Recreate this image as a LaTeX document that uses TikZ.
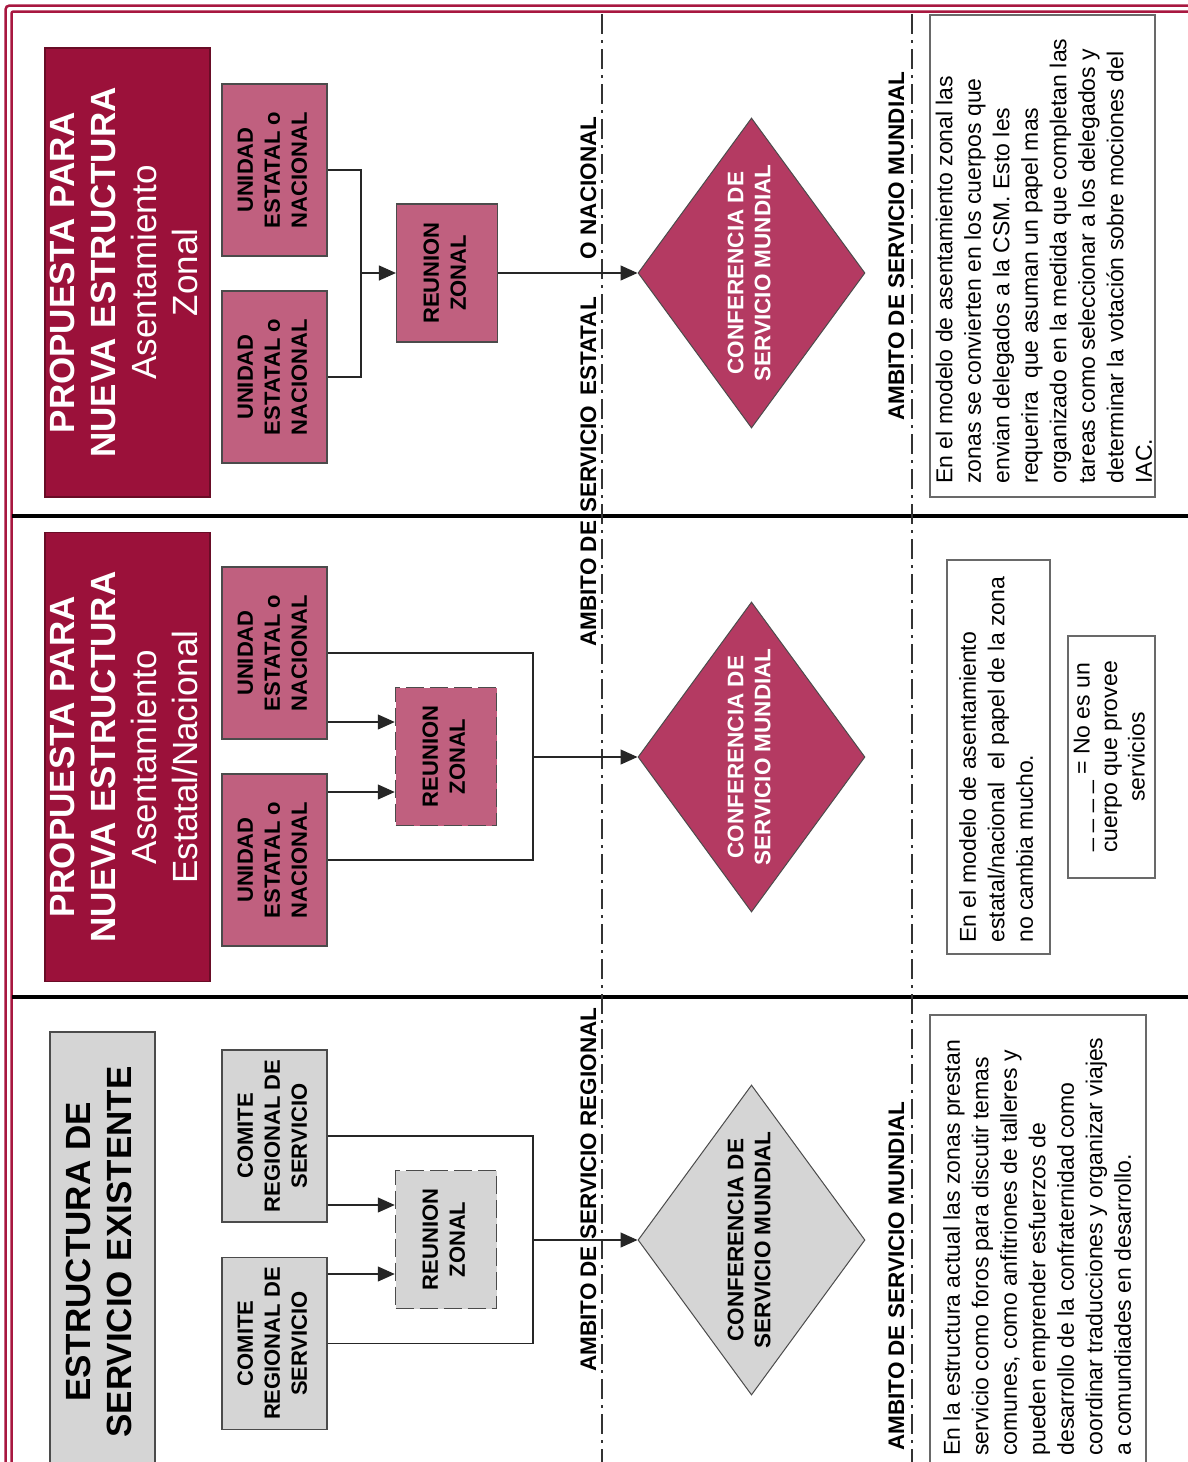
\documentclass[tikz,border=0pt]{standalone}
\usepackage{fontspec}
\setmainfont{Liberation Sans}
\usepackage{graphicx}
\usetikzlibrary{arrows.meta,shapes.geometric,calc}
\definecolor{crim}{RGB}{155,17,58}
\definecolor{crimdark}{RGB}{105,12,38}
\definecolor{bord}{RGB}{168,24,64}
\definecolor{rose}{RGB}{192,96,127}
\definecolor{diamc}{RGB}{180,58,98}
\definecolor{grayc}{RGB}{213,213,213}
\definecolor{edge}{RGB}{75,75,75}
\definecolor{frameedge}{RGB}{105,105,105}
\newcommand{\rotc}[1]{\rotatebox{90}{\begin{tabular}{@{}c@{}}#1\end{tabular}}}
\newcommand{\rotl}[1]{\rotatebox{90}{\begin{tabular}{@{}l@{}}#1\end{tabular}}}
\begin{document}
\begin{tikzpicture}[x=1pt,y=-1pt,
  titlebox/.style={draw=crimdark, line width=1.2pt, fill=crim, text=white, inner sep=0pt,
    minimum width=165pt, minimum height=449pt, font=\fontsize{35}{41}\selectfont},
  graytitle/.style={titlebox, draw=edge, fill=grayc, text=black, minimum width=105pt, minimum height=440pt},
  unitbox/.style={draw=edge, line width=1.2pt, fill=rose, inner sep=0pt,
    minimum width=105pt, minimum height=172pt, font={\bfseries\fontsize{22}{27}\selectfont}},
  grayunit/.style={unitbox, fill=grayc},
  rzbox/.style={draw=edge, line width=1.2pt, fill=rose, inner sep=0pt,
    minimum width=101pt, minimum height=138pt, font={\bfseries\fontsize{22}{27}\selectfont}},
  rzdash/.style={rzbox, dash pattern=on 18pt off 6pt, line width=1.5pt},
  diam/.style={diamond, aspect=0.729, draw=edge, line width=1pt, fill=diamc, text=white,
    inner sep=0pt, minimum width=227pt, minimum height=310pt,
    font={\bfseries\fontsize{22.5}{27}\selectfont}},
  graydiam/.style={diam, fill=grayc, text=black},
  conn/.style={draw=black!85, line width=1.2pt},
  arr/.style={conn, -{Triangle[length=17pt,width=15pt]}},
  lane/.style={line width=1.5pt, black!80, dash pattern=on 20pt off 6pt on 3pt off 6pt},
  sepline/.style={line width=4pt, black},
  pageborder/.style={line width=2.5pt, bord},
  lbl/.style={rotate=90, anchor=base west, inner sep=0pt, font={\bfseries\fontsize{22.5}{27}\selectfont}},
  txtframe/.style={draw=frameedge, line width=1.4pt, fill=white, inner sep=0pt},
  body/.style={anchor=south west, inner sep=0pt, font=\fontsize{23}{28.5}\selectfont}
]
\useasboundingbox (0,0) rectangle (1188,1462);
\clip (0,0) rectangle (1188,1462);
\fill[white] (0,0) rectangle (1188,1462);

% page border
\draw[pageborder, rounded corners=4pt] (5.5,1480) -- (5.5,5.5) -- (1200,5.5);
\draw[pageborder, rounded corners=2pt] (11.5,1480) -- (11.5,11.5) -- (1200,11.5);

% section separators
\draw[sepline] (12,516) -- (1200,516);
\draw[sepline] (12,997) -- (1200,997);

% dash-dot scope lines
\draw[lane] (602,14) -- (602,1480);
\draw[lane] (912,14) -- (912,1480);

% ---------------- top section: Asentamiento Zonal
\node[titlebox] (tA) at (127.5,272.5) {\rotc{\textbf{PROPUESTA PARA}\\\textbf{NUEVA ESTRUCTURA}\\Asentamiento\\Zonal}};
\node[unitbox] (uA) at (274.5,170) {\rotc{UNIDAD\\ESTATAL o\\NACIONAL}};
\node[unitbox] (uB) at (274.5,377) {\rotc{UNIDAD\\ESTATAL o\\NACIONAL}};
\node[rzbox] (rzA) at (447,273) {\rotc{REUNION\\ZONAL}};
\node[diam] (dA) at (751.5,273) {\rotc{CONFERENCIA DE\\SERVICIO MUNDIAL}};
\coordinate (jA) at (361,273);
\draw[conn] (uA.east) -| (jA) |- (uB.east);
\draw[arr] (jA) -- (rzA.west);
\draw[arr] (rzA.east) -- (dA.west);

% ---------------- middle section: Asentamiento Estatal/Nacional
\node[titlebox] (tB) at (127.5,757) {\rotc{\textbf{PROPUESTA PARA}\\\textbf{NUEVA ESTRUCTURA}\\Asentamiento\\Estatal/Nacional}};
\node[unitbox] (uC) at (274.5,653) {\rotc{UNIDAD\\ESTATAL o\\NACIONAL}};
\node[unitbox] (uD) at (274.5,860) {\rotc{UNIDAD\\ESTATAL o\\NACIONAL}};
\node[rzdash] (rzB) at (446,756.5) {\rotc{REUNION\\ZONAL}};
\node[diam] (dB) at (751.5,757) {\rotc{CONFERENCIA DE\\SERVICIO MUNDIAL}};
\coordinate (jB) at (533,757);
\draw[conn] (uC.east) -| (jB) |- (uD.east);
\draw[arr] (jB) -- (dB.west);
\coordinate (aC) at ($(uC.east)+(0,69)$);
\coordinate (aD) at ($(uD.east)+(0,-68)$);
\draw[arr] (aC) -- (aC -| rzB.west);
\draw[arr] (aD) -- (aD -| rzB.west);

% ---------------- bottom section: estructura existente
\node[graytitle] (tC) at (102.5,1252) {\rotc{\textbf{ESTRUCTURA DE}\\\textbf{SERVICIO EXISTENTE}}};
\node[grayunit] (uE) at (274.5,1136) {\rotc{COMITE\\REGIONAL DE\\SERVICIO}};
\node[grayunit] (uF) at (274.5,1343.5) {\rotc{COMITE\\REGIONAL DE\\SERVICIO}};
\node[rzdash, fill=grayc] (rzC) at (446,1239.5) {\rotc{REUNION\\ZONAL}};
\node[graydiam] (dC) at (751.5,1240) {\rotc{CONFERENCIA DE\\SERVICIO MUNDIAL}};
\coordinate (jC) at (533,1240);
\draw[conn] (uE.east) -| (jC) |- (uF.east);
\draw[arr] (jC) -- (dC.west);
\coordinate (aE) at ($(uE.east)+(0,69)$);
\coordinate (aF) at ($(uF.east)+(0,-69.5)$);
\draw[arr] (aE) -- (aE -| rzC.west);
\draw[arr] (aF) -- (aF -| rzC.west);

% ---------------- scope labels
\node[lbl] (lA) at (596,647) {AMBITO DE\hspace{8pt}SERVICIO\hspace{10pt}ESTATAL\hspace{38pt}O NACIONAL};
\node[lbl] (lB) at (904,421) {AMBITO DE SERVICIO MUNDIAL};
\node[lbl] (lC) at (596,1372) {AMBITO DE SERVICIO REGIONAL};
\node[lbl] (lD) at (904,1451) {AMBITO DE SERVICIO MUNDIAL};

% ---------------- text boxes
\node[txtframe, minimum width=225pt, minimum height=482pt] (fA) at (1042.5,256) {};
\node[body] (bA) at ($(fA.south west)+(3,-14)$) {\rotl{En el modelo de asentamiento zonal las\\zonas se convierten en los cuerpos que\\envian delegados a la CSM. Esto les\\requerira\ \ que asuman un papel mas\\organizado en la medida que completan las\\tareas como seleccionar a los delegados y\\determinar la votación sobre mociones del\\IAC.}};

\node[txtframe, minimum width=103pt, minimum height=394pt] (fB) at (998.5,757) {};
\node[body] (bB) at ($(fB.south west)+(9.5,-12)$) {\rotl{En el modelo de asentamiento\\estatal/nacional\ \ el papel de la zona\\no cambia mucho.}};

\node[txtframe, minimum width=87pt, minimum height=242pt] (fL) at (1111.5,757) {};
\node[body, anchor=center, font=\fontsize{23}{27.5}\selectfont] (bL) at (fL) {\rotc{\_ \_ \_ \_ = No es un\\cuerpo que provee\\servicios}};

\node[txtframe, minimum width=216pt, minimum height=460pt] (fC) at (1038,1245) {};
\node[body] (bC) at ($(fC.south west)+(10.5,-20)$) {\rotl{En la estructura actual las zonas prestan\\servicio como foros para discutir temas\\comunes, como anfitriones de talleres y\\pueden emprender esfuerzos de\\desarrollo de la confraternidad como\\coordinar traducciones y organizar viajes\\a comundiades en desarrollo.}};
\end{tikzpicture}
\end{document}
